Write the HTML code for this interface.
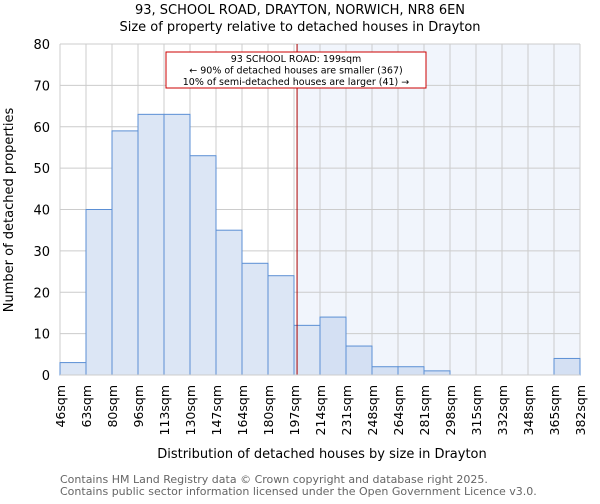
<!DOCTYPE html>
<html><head><meta charset="utf-8"><style>
body{margin:0;background:#fff;font-family:"DejaVu Sans","Liberation Sans",sans-serif;}
</style></head><body>
<svg id="chart" width="600" height="500" xmlns="http://www.w3.org/2000/svg" font-family="DejaVu Sans, Liberation Sans, sans-serif">
<text x="300" y="14" text-anchor="middle" font-size="13">93, SCHOOL ROAD, DRAYTON, NORWICH, NR8 6EN</text>
<text x="300" y="31" text-anchor="middle" font-size="13">Size of property relative to detached houses in Drayton</text>
<g id="plot"></g>
<text transform="translate(13,210) rotate(-90)" text-anchor="middle" font-size="13">Number of detached properties</text>
<text x="322" y="458" text-anchor="middle" font-size="13">Distribution of detached houses by size in Drayton</text>
<text x="60" y="483" font-size="11" fill="#666">Contains HM Land Registry data © Crown copyright and database right 2025.</text>
<text x="60" y="495" font-size="11" fill="#666">Contains public sector information licensed under the Open Government Licence v3.0.</text>
</svg>
<script>
const binLabels=["46sqm","63sqm","80sqm","96sqm","113sqm","130sqm","147sqm","164sqm","180sqm","197sqm","214sqm","231sqm","248sqm","264sqm","281sqm","298sqm","315sqm","332sqm","348sqm","365sqm","382sqm"];
const binEdges=[46,63,80,96,113,130,147,164,180,197,214,231,248,264,281,298,315,332,348,365,382];
const counts=[3,40,59,63,63,53,35,27,24,12,14,7,2,2,1,0,0,0,0,4];
const yTicks=[0,10,20,30,40,50,60,70,80];
const propertySize=199;
const annotationLines=["93 SCHOOL ROAD: 199sqm","← 90% of detached houses are smaller (367)","10% of semi-detached houses are larger (41) →"];

const NS="http://www.w3.org/2000/svg";
const g=document.getElementById('plot');
const X0=60,X1=580,Y0=375,Y1=44;
const nb=counts.length;
function xIdx(i){return X0+(X1-X0)*i/nb;}
function xVal(v){let i=0;while(i<nb-1&&v>binEdges[i+1])i++;return xIdx(i)+(v-binEdges[i])/(binEdges[i+1]-binEdges[i])*(X1-X0)/nb;}
function y(v){return Y0-(Y0-Y1)*v/80;}
function el(t,a,p){const e=document.createElementNS(NS,t);for(const k in a)e.setAttribute(k,a[k]);(p||g).appendChild(e);return e;}
const px=xVal(propertySize);
let sh=el('rect',{x:px,y:Y1,width:X1-px,height:Y0-Y1,fill:'#f1f5fc'});


yTicks.forEach(t=>{
  let l=el('line',{x1:X0,x2:X1,y1:y(t),y2:y(t),stroke:'#ccc','stroke-width':1});
  
  
  let tx=el('text',{x:X0-10,y:y(t)+5,'text-anchor':'end','font-size':13});
  tx.textContent=t;
  
  
});
binLabels.forEach((lb,i)=>{
  const xx=xIdx(i);
  let l=el('line',{x1:xx,x2:xx,y1:Y1,y2:Y0,stroke:'#ccc','stroke-width':1});
  
  
  let tx=el('text',{transform:`translate(${xx+5},${Y0+10}) rotate(-90)`,'text-anchor':'end','font-size':12.5});
  tx.textContent=lb;
  
  
});
counts.forEach((c,i)=>{
  if(c<=0)return;
  const right=xIdx(i)>=px-1;
  let r=el('rect',{x:xIdx(i),y:y(c),width:(X1-X0)/nb,height:Y0-y(c),fill:right?'#d4e0f3':'#dce6f5',stroke:'#5b8fd4','stroke-width':1});
  
  
});
let pl=el('line',{x1:px,x2:px,y1:Y1,y2:Y0,stroke:'#a00','stroke-width':1});


let box=el('rect',{x:166,y:52,width:260,height:36,fill:'#fff',stroke:'#c00','stroke-width':1});


annotationLines.forEach((s,i)=>{
  let t=el('text',{x:296,y:62+i*11.5,'text-anchor':'middle','font-size':9.5});
  t.textContent=s;
  
  
});
let ax=el('line',{x1:X0,x2:X1,y1:Y0,y2:Y0,stroke:'#ccc','stroke-width':1});


</script>
</body></html>
